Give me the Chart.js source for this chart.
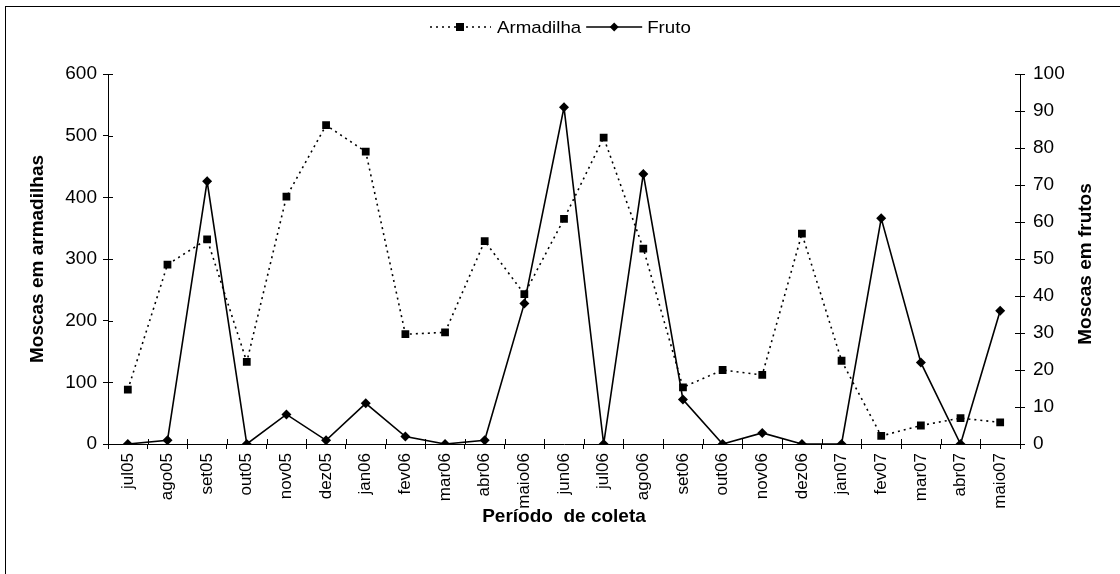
<!DOCTYPE html>
<html>
<head>
<meta charset="utf-8">
<script src="https://cdn.jsdelivr.net/npm/chart.js@4.4.1/dist/chart.umd.min.js"></script>
<style>
  html, body { margin: 0; padding: 0; background: #ffffff; }
  #wrap { width: 1120px; height: 574px; position: relative; }
</style>
</head>
<body>
<div id="wrap"><canvas id="c" width="1120" height="574"></canvas></div>
<script>
// ---- data ----
const categories = ["jul05","ago05","set05","out05","nov05","dez05","jan06","fev06","mar06","abr06","maio06","jun06","jul06","ago06","set06","out06","nov06","dez06","jan07","fev07","mar07","abr07","maio07"];
const armadilha = [88, 291, 332, 133, 401, 517, 474, 178, 181, 329, 243, 365, 497, 317, 92, 120, 112, 341, 135, 13, 30, 42, 35];
const fruto = [0, 1, 71, 0, 8, 1, 11, 2, 0, 1, 38, 91, 0, 73, 12, 0, 3, 0, 0, 61, 22, 0, 36];
const seriesNames = ["Armadilha", "Fruto"];
const leftTitle = "Moscas em armadilhas";
const rightTitle = "Moscas em frutos";
const xTitle = "Período  de coleta";

const FONT = "'Liberation Sans', Arial, sans-serif";

// frame, legend, right title, inner tick marks
const decor = {
  id: 'decor',
  afterDraw(chart) {
    const ctx = chart.ctx;
    const ca = chart.chartArea;
    ctx.save();
    // outer frame (left + top edges visible)
    ctx.strokeStyle = '#000';
    ctx.lineWidth = 1;
    ctx.strokeRect(5.5, 6.5, 1300, 1000);

    // inner tick halves
    const yl = chart.scales.y, yr = chart.scales.y2;
    ctx.beginPath();
    yl.ticks.forEach((t, i) => { const p = Math.round(yl.getPixelForTick(i)) + 0.5; ctx.moveTo(ca.left, p); ctx.lineTo(ca.left + 5, p); });
    yr.ticks.forEach((t, i) => { const p = Math.round(yr.getPixelForTick(i)) + 0.5; ctx.moveTo(ca.right - 5, p); ctx.lineTo(ca.right, p); });
    const n = categories.length;
    for (let i = 0; i <= n; i++) {
      const p = Math.round(ca.left + (ca.right - ca.left) * i / n) + 0.5;
      ctx.moveTo(p, ca.bottom - 5); ctx.lineTo(p, ca.bottom);
    }
    ctx.stroke();

    // right axis title (reads bottom-to-top)
    ctx.fillStyle = '#000';
    ctx.font = "bold 19px " + FONT;
    ctx.textAlign = 'center';
    ctx.textBaseline = 'middle';
    ctx.translate(1086, (ca.top + ca.bottom) / 2 + 5);
    ctx.rotate(-Math.PI / 2);
    ctx.fillText(rightTitle, 0, 0);
    ctx.restore();

    // legend
    ctx.save();
    const ly = 27;
    const sx = 1.1;
    ctx.strokeStyle = '#000';
    ctx.fillStyle = '#000';
    ctx.lineWidth = 1.5;
    ctx.setLineDash([2, 4]);
    ctx.beginPath(); ctx.moveTo(430, ly); ctx.lineTo(491, ly); ctx.stroke();
    ctx.setLineDash([]);
    ctx.fillRect(456, ly - 4, 8, 8);
    ctx.font = "17px " + FONT;
    ctx.textAlign = 'left';
    ctx.textBaseline = 'middle';
    const drawStretched = (txt, x) => {
      ctx.save(); ctx.translate(x, ly + 1); ctx.scale(sx, 1); ctx.fillText(txt, 0, 0); ctx.restore();
      return ctx.measureText(txt).width * sx;
    };
    const tw = drawStretched(seriesNames[0], 497);
    const l2 = 497 + tw + 5;
    ctx.beginPath(); ctx.moveTo(l2, ly); ctx.lineTo(l2 + 56, ly); ctx.stroke();
    ctx.beginPath();
    const dx = l2 + 28;
    ctx.moveTo(dx - 4.5, ly); ctx.lineTo(dx, ly - 4.5); ctx.lineTo(dx + 4.5, ly); ctx.lineTo(dx, ly + 4.5); ctx.closePath(); ctx.fill();
    drawStretched(seriesNames[1], l2 + 61);
    ctx.restore();
  }
};

new Chart(document.getElementById('c'), {
  type: 'line',
  data: {
    labels: categories,
    datasets: [
      {
        label: seriesNames[0],
        data: armadilha,
        yAxisID: 'y',
        borderColor: '#000',
        backgroundColor: '#000',
        borderWidth: 1.6,
        borderDash: [2, 4],
        pointStyle: 'rect',
        pointRadius: 5.5,
        pointBorderWidth: 0,
        tension: 0,
        fill: false
      },
      {
        label: seriesNames[1],
        data: fruto,
        yAxisID: 'y2',
        borderColor: '#000',
        backgroundColor: '#000',
        borderWidth: 1.6,
        pointStyle: 'rectRot',
        pointRadius: 5,
        pointBorderWidth: 0,
        tension: 0,
        fill: false
      }
    ]
  },
  options: {
    responsive: false,
    animation: false,
    devicePixelRatio: 1,
    layout: { padding: { top: 74, left: 0, right: 0, bottom: 0 } },
    plugins: { legend: { display: false }, tooltip: { enabled: false } },
    scales: {
      x: {
        type: 'category',
        offset: true,
        grid: { display: true, offset: true, drawOnChartArea: false, color: '#000', tickLength: 5, tickColor: '#000' },
        border: { display: true, color: '#000', width: 1 },
        ticks: { color: '#000', font: { family: FONT, size: 17 }, minRotation: 90, maxRotation: 90, padding: 4, autoSkip: false },
        title: { display: true, text: xTitle, color: '#000', font: { family: FONT, size: 19, weight: 'bold' }, padding: { top: 0, bottom: 46 } },
        afterFit(s) { s.height = 130; }
      },
      y: {
        position: 'left',
        min: 0, max: 600,
        ticks: { stepSize: 100, color: '#000', font: { family: FONT, size: 19 }, padding: 6 },
        grid: { drawOnChartArea: false, color: '#000', tickLength: 5, tickColor: '#000' },
        border: { display: true, color: '#000', width: 1 },
        title: { display: true, text: leftTitle, color: '#000', font: { family: FONT, size: 19, weight: 'bold' }, padding: { top: 26, bottom: 0 } },
        afterFit(s) { s.width = 108; }
      },
      y2: {
        position: 'right',
        min: 0, max: 100,
        ticks: { stepSize: 10, color: '#000', font: { family: FONT, size: 19 }, padding: 8 },
        grid: { drawOnChartArea: false, color: '#000', tickLength: 5, tickColor: '#000' },
        border: { display: true, color: '#000', width: 1 },
        afterFit(s) { s.width = 100; }
      }
    }
  },
  plugins: [decor]
});
</script>
</body>
</html>
